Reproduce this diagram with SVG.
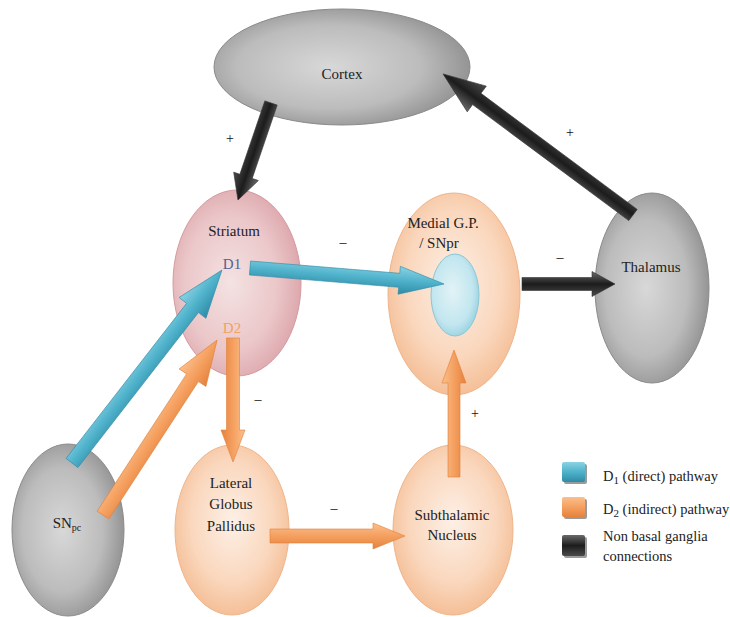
<svg xmlns="http://www.w3.org/2000/svg" width="730" height="617" viewBox="0 0 730 617" font-family="'Liberation Serif', 'Times New Roman', 'DejaVu Serif', serif">
<defs>
<style>
text{font-family:'Liberation Serif','Times New Roman','DejaVu Serif',serif;font-size:15px;fill:#222;text-anchor:middle}
.sign{font-size:14px;fill:#111}
.leg{text-anchor:start;font-size:14.5px}
</style>
<radialGradient id="gGray" cx="0.45" cy="0.5" r="0.6">
<stop offset="0" stop-color="#d8d8d8"/><stop offset="0.6" stop-color="#bcbcbc"/><stop offset="1" stop-color="#8a8a8a"/>
</radialGradient>
<radialGradient id="gPink" cx="0.45" cy="0.5" r="0.6">
<stop offset="0" stop-color="#f4e2e2"/><stop offset="0.6" stop-color="#ebc7c9"/><stop offset="1" stop-color="#d9a0a6"/>
</radialGradient>
<radialGradient id="gPeach" cx="0.5" cy="0.45" r="0.6">
<stop offset="0" stop-color="#fdf0e6"/><stop offset="0.6" stop-color="#fad7bd"/><stop offset="1" stop-color="#f3b98e"/>
</radialGradient>
<radialGradient id="gBlue" cx="0.45" cy="0.45" r="0.6">
<stop offset="0" stop-color="#e2f3f7"/><stop offset="0.7" stop-color="#c2e6ef"/><stop offset="1" stop-color="#94d0df"/>
</radialGradient>
<linearGradient id="aBlue" x1="0" y1="0" x2="0" y2="1">
<stop offset="0" stop-color="#8ad3e4"/><stop offset="0.5" stop-color="#4fb2cb"/><stop offset="1" stop-color="#2f8aa6"/>
</linearGradient>
<linearGradient id="aOrange" x1="0" y1="0" x2="0" y2="1">
<stop offset="0" stop-color="#fbbf8c"/><stop offset="0.5" stop-color="#f5a060"/><stop offset="1" stop-color="#e5823c"/>
</linearGradient>
<linearGradient id="aBlack" x1="0" y1="0" x2="0" y2="1">
<stop offset="0" stop-color="#6a6a6a"/><stop offset="0.5" stop-color="#1c1c1c"/><stop offset="1" stop-color="#4a4a4a"/>
</linearGradient>
</defs>
<rect width="730" height="617" fill="#ffffff"/>

<g id="cortex">
<ellipse cx="342" cy="67" rx="128" ry="58" fill="url(#gGray)" stroke="#8a8a8a" stroke-width="1"/>
<text x="342" y="79">Cortex</text>
</g>
<g id="striatum">
<ellipse cx="237" cy="283" rx="64" ry="93" fill="url(#gPink)" stroke="#d49aa0" stroke-width="1"/>
<text x="234" y="236">Striatum</text>
<text x="232" y="269" style="fill:#56618f">D1</text>
<text x="232" y="333" style="fill:#f2a262">D2</text>
</g>
<g id="medial-gp">
<ellipse cx="454" cy="294" rx="66" ry="101" fill="url(#gPeach)" stroke="#eeb48a" stroke-width="1"/>
<ellipse cx="455" cy="295" rx="24" ry="41" fill="url(#gBlue)" stroke="#8cc6d6" stroke-width="1"/>
<text x="443" y="228">Medial G.P.</text>
<text x="439" y="248">/ SNpr</text>
</g>
<g id="thalamus">
<ellipse cx="652" cy="288" rx="57" ry="95" fill="url(#gGray)" stroke="#8a8a8a" stroke-width="1"/>
<text x="651" y="272">Thalamus</text>
</g>
<g id="snpc">
<ellipse cx="68" cy="530" rx="56" ry="86" fill="url(#gGray)" stroke="#8a8a8a" stroke-width="1"/>
<text x="67" y="528">SN<tspan font-size="10" dy="3">pc</tspan></text>
</g>
<g id="lateral-gp">
<ellipse cx="232" cy="530" rx="57" ry="85" fill="url(#gPeach)" stroke="#eeb48a" stroke-width="1"/>
<text x="231" y="488">Lateral</text>
<text x="231" y="509">Globus</text>
<text x="231" y="531">Pallidus</text>
</g>
<g id="subthalamic">
<ellipse cx="453" cy="530" rx="60" ry="85" fill="url(#gPeach)" stroke="#eeb48a" stroke-width="1"/>
<text x="452" y="520">Subthalamic</text>
<text x="452" y="540">Nucleus</text>
</g>

<g id="connectors">
<path transform="translate(271,103) rotate(108.8)" d="M0,-6.5 L77.5,-6.5 L77.5,-13 L102.5,0 L77.5,13 L77.5,6.5 L0,6.5 Z" fill="url(#aBlack)" stroke="#333" stroke-width="0.6"/>
<path transform="translate(633,215) rotate(-143.4)" d="M0,-7 L194.6,-7 L194.6,-16 L236.6,0 L194.6,16 L194.6,7 L0,7 Z" fill="url(#aBlack)" stroke="#333" stroke-width="0.6"/>
<path transform="translate(522,284)" d="M0,-6.5 L70,-6.5 L70,-12.5 L93,0 L70,12.5 L70,6.5 L0,6.5 Z" fill="url(#aBlack)" stroke="#333" stroke-width="0.6"/>
<path transform="translate(250,268) rotate(4.7)" d="M0,-7 L149.7,-7 L149.7,-14 L194.7,0 L149.7,14 L149.7,7 L0,7 Z" fill="url(#aBlue)" stroke="#2f8aa6" stroke-width="0.6"/>
<path transform="translate(72,463) rotate(-52.15)" d="M0,-7.5 L196.4,-7.5 L196.4,-17 L244.4,0 L196.4,17 L196.4,7.5 L0,7.5 Z" fill="url(#aBlue)" stroke="#2f8aa6" stroke-width="0.6"/>
<path transform="translate(103,515) rotate(-56.9)" d="M0,-7 L163.9,-7 L163.9,-16 L208.9,0 L163.9,16 L163.9,7 L0,7 Z" fill="url(#aOrange)" stroke="#e0803a" stroke-width="0.6"/>
<path transform="translate(233,338) rotate(90)" d="M0,-6.5 L92,-6.5 L92,-12 L124,0 L92,12 L92,6.5 L0,6.5 Z" fill="url(#aOrange)" stroke="#e0803a" stroke-width="0.6"/>
<path transform="translate(270,536)" d="M0,-7 L103,-7 L103,-13 L135,0 L103,13 L103,7 L0,7 Z" fill="url(#aOrange)" stroke="#e0803a" stroke-width="0.6"/>
<path transform="translate(454,477) rotate(-90)" d="M0,-6 L94,-6 L94,-12 L127,0 L94,12 L94,6 L0,6 Z" fill="url(#aOrange)" stroke="#e0803a" stroke-width="0.6"/>
</g>

<g id="signs">
<text class="sign" x="230" y="143">+</text>
<text class="sign" x="570" y="137">+</text>
<text class="sign" x="343" y="247">–</text>
<text class="sign" x="560" y="262">–</text>
<text class="sign" x="258" y="404">–</text>
<text class="sign" x="475" y="418">+</text>
<text class="sign" x="334" y="513">–</text>
</g>

<g id="legend">
<rect x="564" y="464" width="23" height="20" rx="2" fill="#9a9a9a"/>
<rect x="562" y="462" width="23" height="20" rx="2" fill="url(#aBlue)"/>
<rect x="564" y="499" width="23" height="20" rx="2" fill="#9a9a9a"/>
<rect x="562" y="497" width="23" height="20" rx="2" fill="url(#aOrange)"/>
<rect x="564" y="537" width="23" height="21" rx="2" fill="#9a9a9a"/>
<rect x="562" y="535" width="23" height="21" rx="2" fill="url(#aBlack)"/>
<text class="leg" x="603" y="481">D<tspan font-size="11" dy="3">1</tspan><tspan dy="-3"> (direct) pathway</tspan></text>
<text class="leg" x="603" y="514">D<tspan font-size="11" dy="3">2</tspan><tspan dy="-3"> (indirect) pathway</tspan></text>
<text class="leg" x="603" y="541">Non basal ganglia</text>
<text class="leg" x="603" y="561">connections</text>
</g>
</svg>
